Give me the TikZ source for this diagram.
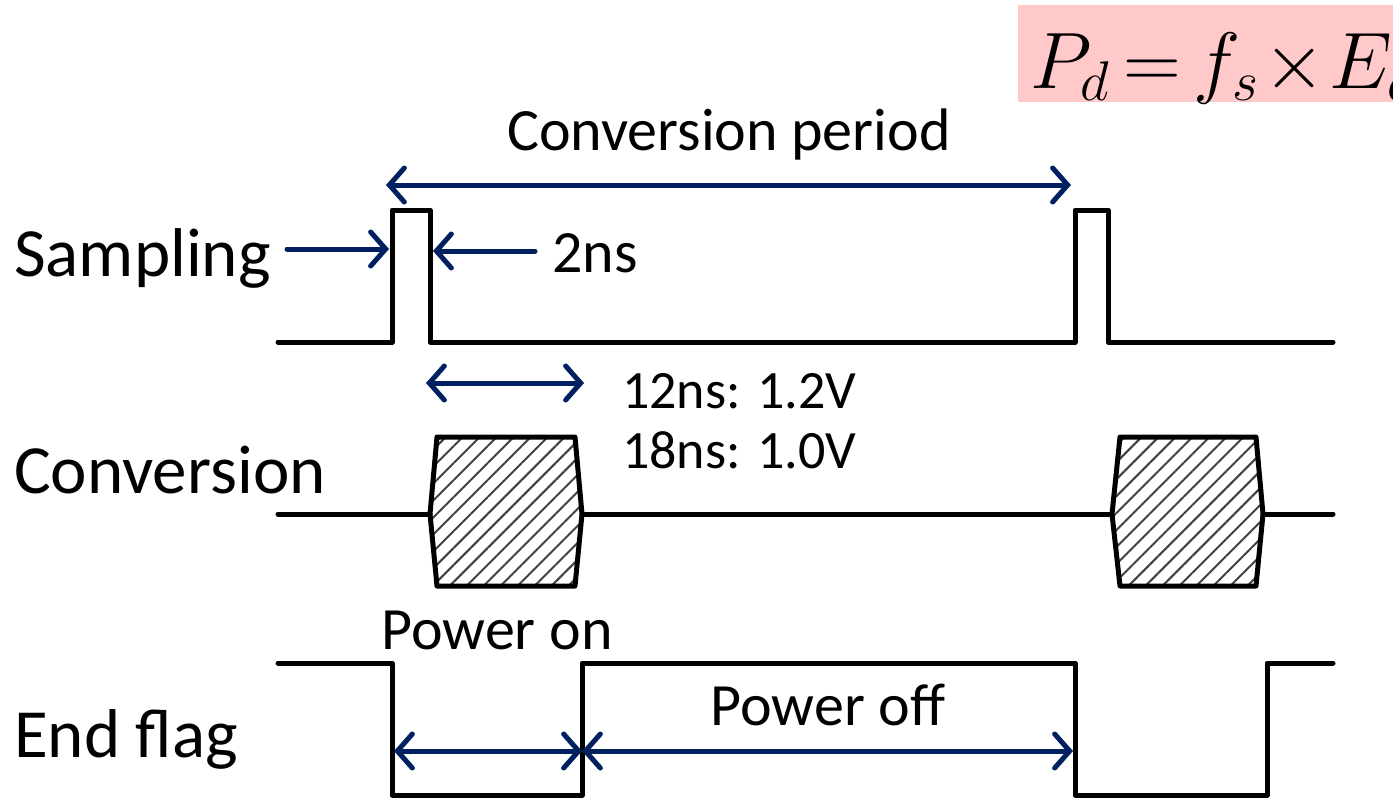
\documentclass[tikz,border=0pt]{standalone}
\usepackage{fix-cm}
\usepackage{fontspec}
\setmainfont{Carlito}
\usetikzlibrary{arrows.meta,patterns.meta}
\definecolor{navy}{HTML}{002060}
\definecolor{pinkbg}{HTML}{FFC9C9}
\begin{document}
\begin{tikzpicture}[x=1pt,y=-1pt,
  wave/.style={line width=5pt,line join=round,line cap=round},
  dim/.style={navy,line width=5pt,line cap=round},
  dimarrow/.style={dim,{Straight Barb[length=15pt,width=34pt,line cap=round]}-{Straight Barb[length=15pt,width=34pt,line cap=round]}},
  dimend/.style={dim,-{Straight Barb[length=15pt,width=34pt,line cap=round]}},
  lbl/.style={inner sep=0pt,anchor=base west,font=\fontsize{69}{80}\selectfont},
  txt/.style={inner sep=0pt,anchor=base west,font=\fontsize{60}{72}\selectfont},
  small/.style={inner sep=0pt,anchor=base west,font=\fontsize{54}{64}\selectfont},
  hatchbox/.style={wave,pattern={Lines[angle=45,distance=12pt,line width=2pt]},pattern color=black!75}
]
\useasboundingbox (0,0) rectangle (1393,798);
\clip (0,0) rectangle (1393,798);
% formula box
\fill[pinkbg] (1018,5) rectangle (1400,102);
\node[inner sep=0pt,anchor=base west,font=\fontsize{80}{90}\selectfont] (formula) at (1030,88)
  {\thickmuskip=3mu \medmuskip=1mu $P_d=f_s\times E_d$};
% labels
\node[lbl] (lsamp) at (14,276) {Sampling};
\node[lbl] (lconv) at (14,493) {Conversion};
\node[lbl] (lend) at (14,757) {End flag};
% sampling waveform
\draw[wave] (278,342) -- (392,342) -- (392,210) -- (430,210) -- (430,342) -- (1075,342) -- (1075,210) -- (1108,210) -- (1108,342) -- (1333,342);
% conversion waveform
\draw[wave] (278,514) -- (430,514);
\draw[hatchbox] (430,514) -- (437,437) -- (575,437) -- (582,514) -- (575,586) -- (437,586) -- cycle;
\draw[wave] (582,514) -- (1112,514);
\draw[hatchbox] (1112,514) -- (1120,437) -- (1256,437) -- (1263,514) -- (1256,586) -- (1120,586) -- cycle;
\draw[wave] (1263,514) -- (1333,514);
% end flag waveform
\draw[wave] (278,663) -- (392,663) -- (392,795) -- (582,795) -- (582,663) -- (1075,663) -- (1075,795) -- (1267,795) -- (1267,663) -- (1333,663);
% conversion period
\coordinate (cpA) at (386,185);
\coordinate (cpB) at (1071,185);
\draw[dimarrow] (cpA) -- (cpB);
\node[txt,anchor=base] (tcp) at (729,150) {Conversion period};
% 2ns
\coordinate (s1a) at (287,249);
\coordinate (s1b) at (389,249);
\coordinate (s2a) at (535,251);
\coordinate (s2b) at (433,251);
\draw[dimend] (s1a) -- (s1b);
\draw[dimend] (s2a) -- (s2b);
\node[txt] (t2ns) at (552,272) {2ns};
% 12ns
\coordinate (c1a) at (426,383);
\coordinate (c1b) at (584,383);
\draw[dimarrow] (c1a) -- (c1b);
\node[small] (t12) at (622,408) {12ns: 1.2V};
\node[small] (t18) at (622,468) {18ns: 1.0V};
% power on/off
\coordinate (p1) at (394,751);
\coordinate (p2) at (582,751);
\coordinate (p3) at (1073,751);
\draw[dimarrow] (p1) -- (p2);
\draw[dimarrow] (p2) -- (p3);
\node[txt,anchor=base] (ton) at (497,649) {Power on};
\node[txt,anchor=base] (toff) at (828,725) {Power off};
\end{tikzpicture}
\end{document}
